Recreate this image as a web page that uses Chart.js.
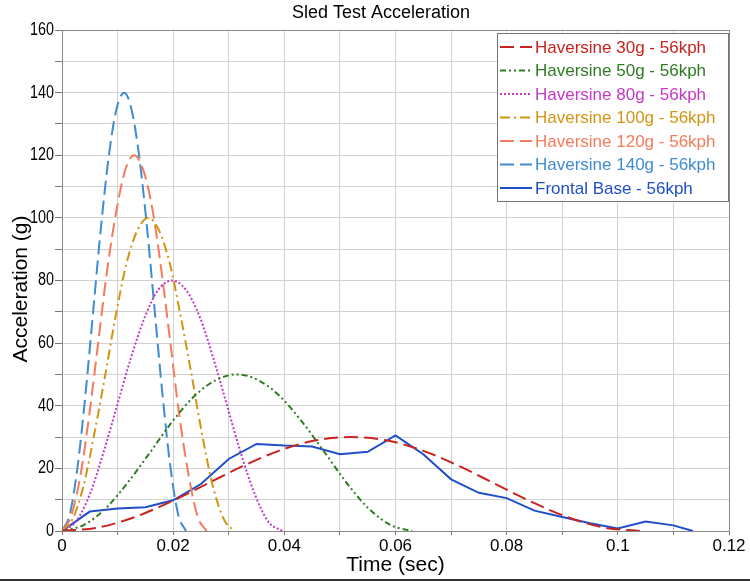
<!DOCTYPE html>
<html>
<head>
<meta charset="utf-8">
<script src="https://cdn.jsdelivr.net/npm/chart.js@4.4.1/dist/chart.umd.min.js"></script>
<style>
  html, body { margin: 0; padding: 0; background: #fff; }
  #wrap { width: 750px; height: 582px; position: relative; }
</style>
</head>
<body>
<div id="wrap"><canvas id="sledChart" width="750" height="582"></canvas></div>
<script>
// time (sec) / acceleration (g)
const t30  = [0, 0.0065, 0.013, 0.0195, 0.026, 0.0325, 0.039, 0.0455, 0.052, 0.0585, 0.065, 0.0715, 0.078, 0.0845, 0.091, 0.0975, 0.104];
const g30  = [0, 1.1, 4.4, 9.3, 15, 20.7, 25.6, 28.9, 30, 28.9, 25.6, 20.7, 15, 9.3, 4.4, 1.1, 0];

const t50  = [0, 0.0039, 0.0079, 0.0118, 0.0158, 0.0197, 0.0236, 0.0276, 0.0315, 0.0354, 0.0394, 0.0433, 0.0473, 0.0512, 0.0551, 0.0591, 0.063];
const g50  = [0, 1.9, 7.3, 15.4, 25, 34.6, 42.7, 48.1, 50, 48.1, 42.7, 34.6, 25, 15.4, 7.3, 1.9, 0];

const t80  = [0, 0.0025, 0.005, 0.0074, 0.0099, 0.0124, 0.0149, 0.0173, 0.0198, 0.0223, 0.0248, 0.0272, 0.0297, 0.0322, 0.0347, 0.0371, 0.0396];
const g80  = [0, 3, 11.7, 24.7, 40, 55.3, 68.3, 77, 80, 77, 68.3, 55.3, 40, 24.7, 11.7, 3, 0];

const t100 = [0, 0.0019, 0.0039, 0.0058, 0.0078, 0.0097, 0.0116, 0.0136, 0.0155, 0.0174, 0.0194, 0.0213, 0.0233, 0.0252, 0.0271, 0.0291, 0.031];
const g100 = [0, 3.8, 14.6, 30.9, 50, 69.1, 85.4, 96.2, 100, 96.2, 85.4, 69.1, 50, 30.9, 14.6, 3.8, 0];

const t120 = [0, 0.0016, 0.0033, 0.0049, 0.0065, 0.0081, 0.0098, 0.0114, 0.013, 0.0146, 0.0163, 0.0179, 0.0195, 0.0211, 0.0228, 0.0244, 0.026];
const g120 = [0, 4.6, 17.6, 37, 60, 83, 102.4, 115.4, 120, 115.4, 102.4, 83, 60, 37, 17.6, 4.6, 0];

const t140 = [0, 0.0014, 0.0028, 0.0042, 0.0056, 0.007, 0.0084, 0.0098, 0.0112, 0.0125, 0.0139, 0.0153, 0.0167, 0.0181, 0.0195, 0.0209, 0.0223];
const g140 = [0, 5.3, 20.5, 43.2, 70, 96.8, 119.5, 134.7, 140, 134.7, 119.5, 96.8, 70, 43.2, 20.5, 5.3, 0];

const tBase = [0, 0.005, 0.01, 0.015, 0.02, 0.025, 0.03, 0.035, 0.04, 0.045, 0.05, 0.055, 0.06, 0.065, 0.07, 0.075, 0.08, 0.085, 0.09, 0.095, 0.1, 0.105, 0.11, 0.1135];
const gBase = [0, 6.2, 7.2, 7.6, 9.8, 15, 23, 27.8, 27.3, 27, 24.5, 25.3, 30.5, 24.5, 16.5, 12.2, 10.5, 6.5, 4.5, 2.5, 0.8, 3.0, 1.8, 0];

const seriesLabels = [
  'Haversine 30g - 56kph', 'Haversine 50g - 56kph', 'Haversine 80g - 56kph',
  'Haversine 100g - 56kph', 'Haversine 120g - 56kph', 'Haversine 140g - 56kph',
  'Frontal Base - 56kph'
];

const FONT = "'Liberation Sans', Arial, sans-serif";

function pts(xs, ys) {
  return xs.map((x, i) => ({ x: x, y: ys[i] }));
}

function haversine(label, xs, ys, color, dash) {
  return {
    label: label,
    data: pts(xs, ys),
    borderColor: color,
    borderWidth: 2,
    borderDash: dash,
    pointRadius: 0,
    fill: false,
    cubicInterpolationMode: 'monotone'
  };
}

const datasets = [
  haversine(seriesLabels[0], t30, g30, '#c8231e', [14, 6]),
  haversine(seriesLabels[1], t50, g50, '#2f7a23', [6, 3, 2, 3, 2, 3]),
  haversine(seriesLabels[2], t80, g80, '#c23ac6', [2, 2]),
  haversine(seriesLabels[3], t100, g100, '#d39411', [10, 4, 2, 4]),
  haversine(seriesLabels[4], t120, g120, '#f47c5c', [14, 6]),
  haversine(seriesLabels[5], t140, g140, '#3f8cd2', [14, 6]),
  {
    label: seriesLabels[6],
    data: pts(tBase, gBase),
    borderColor: '#1f4ec8',
    borderWidth: 2,
    pointRadius: 0,
    fill: false,
    tension: 0
  }
];

// title, y labels (condensed), y title, plot frame, legend box and bottom rule
const decorations = {
  id: 'decorations',
  beforeDatasetsDraw(chart) {
    const { ctx, chartArea: a } = chart;
    ctx.save();
    ctx.strokeStyle = '#8a8a8a';
    ctx.lineWidth = 1;
    ctx.strokeRect(a.left + 0.5, a.top + 0.5, a.right - a.left, a.bottom - a.top);
    ctx.restore();
  },
  afterDraw(chart) {
    const { ctx } = chart;
    const yScale = chart.scales.y;
    ctx.save();
    ctx.fillStyle = '#000';
    ctx.font = '18px ' + FONT;
    ctx.textAlign = 'center';
    ctx.textBaseline = 'middle';
    ctx.fillText('Sled Test Acceleration', 381, 13);

    // y tick labels, narrow like the original
    ctx.font = '18px ' + FONT;
    ctx.textAlign = 'right';
    yScale.ticks.forEach((tk) => {
      const v = Math.round(tk.value);
      if (v % 20) return;
      const py = yScale.getPixelForValue(tk.value);
      ctx.save();
      ctx.translate(54, py);
      ctx.scale(0.8, 1);
      ctx.fillText(String(v), 0, 0);
      ctx.restore();
    });

    ctx.save();
    ctx.translate(21, 289);
    ctx.rotate(-Math.PI / 2);
    ctx.textAlign = 'center';
    ctx.font = '21px ' + FONT;
    ctx.fillText('Acceleration (g)', 0, 0);
    ctx.restore();

    // legend
    const bx = 497, by = 33, bw = 231, bh = 168;
    ctx.fillStyle = '#fff';
    ctx.fillRect(bx, by, bw, bh);
    ctx.strokeStyle = '#777';
    ctx.lineWidth = 1;
    ctx.strokeRect(bx + 0.5, by + 0.5, bw, bh);
    ctx.font = '17px ' + FONT;
    ctx.textAlign = 'left';
    chart.data.datasets.forEach((ds, i) => {
      const y = 47 + i * 23.5;
      ctx.strokeStyle = ds.borderColor;
      ctx.lineWidth = 2;
      ctx.setLineDash(ds.borderDash || []);
      ctx.beginPath();
      ctx.moveTo(500, y);
      ctx.lineTo(532, y);
      ctx.stroke();
      ctx.setLineDash([]);
      ctx.fillStyle = ds.borderColor;
      ctx.fillText(ds.label, 535, y + 1);
    });

    ctx.fillStyle = '#333';
    ctx.fillRect(0, 579, 750, 2);
    ctx.restore();
  }
};

const ctx = document.getElementById('sledChart').getContext('2d');
const sledChart = new Chart(ctx, {
  type: 'line',
  data: { datasets: datasets },
  options: {
    responsive: false,
    animation: false,
    layout: { padding: { top: 30, right: 21, left: 0, bottom: 0 } },
    plugins: {
      legend: { display: false },
      title: { display: false },
      tooltip: { enabled: false }
    },
    scales: {
      x: {
        type: 'linear',
        min: 0,
        max: 0.12,
        afterFit: (s) => { s.height = 51; },
        ticks: {
          stepSize: 0.01,
          autoSkip: false,
          maxRotation: 0,
          padding: 1,
          color: '#000',
          font: { family: FONT, size: 17 },
          callback: (v) => {
            const n = Math.round(v * 100);
            return n % 2 ? '' : String(n / 100);
          }
        },
        grid: { color: '#d2d2d2', tickLength: 4, tickColor: '#777' },
        border: { color: '#444', width: 1 },
        title: {
          display: true,
          text: 'Time (sec)',
          color: '#000',
          font: { family: FONT, size: 21 },
          padding: { top: 0, bottom: 4 }
        }
      },
      y: {
        min: 0,
        max: 160,
        afterFit: (s) => { s.width = 62; },
        ticks: {
          stepSize: 10,
          autoSkip: false,
          display: false
        },
        grid: { color: '#d2d2d2', tickLength: 7, tickColor: '#777' },
        border: { color: '#444', width: 1 }
      }
    }
  },
  plugins: [decorations]
});
</script>
</body>
</html>
